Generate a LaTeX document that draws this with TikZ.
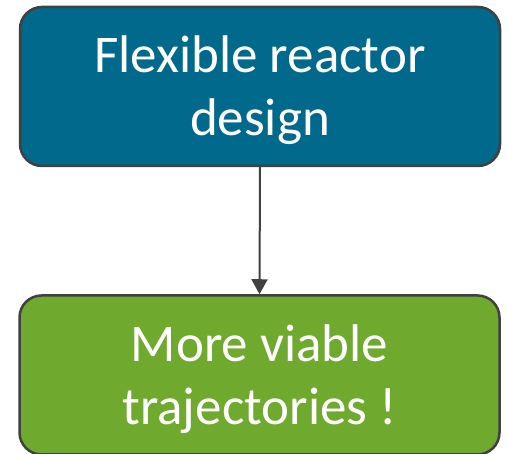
\documentclass[tikz,border=0pt]{standalone}
\usepackage{fontspec}
\setmainfont{Carlito}
\usetikzlibrary{arrows.meta}
\definecolor{topblue}{RGB}{0,105,140}
\definecolor{boxgreen}{RGB}{111,170,47}
\definecolor{edgegray}{RGB}{64,64,64}
\tikzset{
  box/.style={draw=edgegray, line width=2.5pt, rounded corners=22pt,
    minimum width=480pt, minimum height=159pt, inner sep=0pt},
  lbl/.style={text=white, align=center,
    font=\fontsize{53}{63}\selectfont, inner sep=0pt},
  conn/.style={draw=edgegray, line width=2pt, -{Triangle[length=15pt,width=16pt]}}
}
\begin{document}
\begin{tikzpicture}[x=1pt,y=1pt]
\useasboundingbox (0,0) rectangle (507,454);
\node[box, fill=topblue] (top) at (260,367.5) {};
\node[lbl] (toptext) at ([yshift=-4pt]top.center) {Flexible reactor\\design};
\node[box, fill=boxgreen] (bot) at (259.5,79) {};
\node[lbl] (bottext) at ([yshift=-4pt]bot.center) {More viable\\trajectories !};
\draw[conn] (top.south) -- (bot.north);
\end{tikzpicture}
\end{document}
